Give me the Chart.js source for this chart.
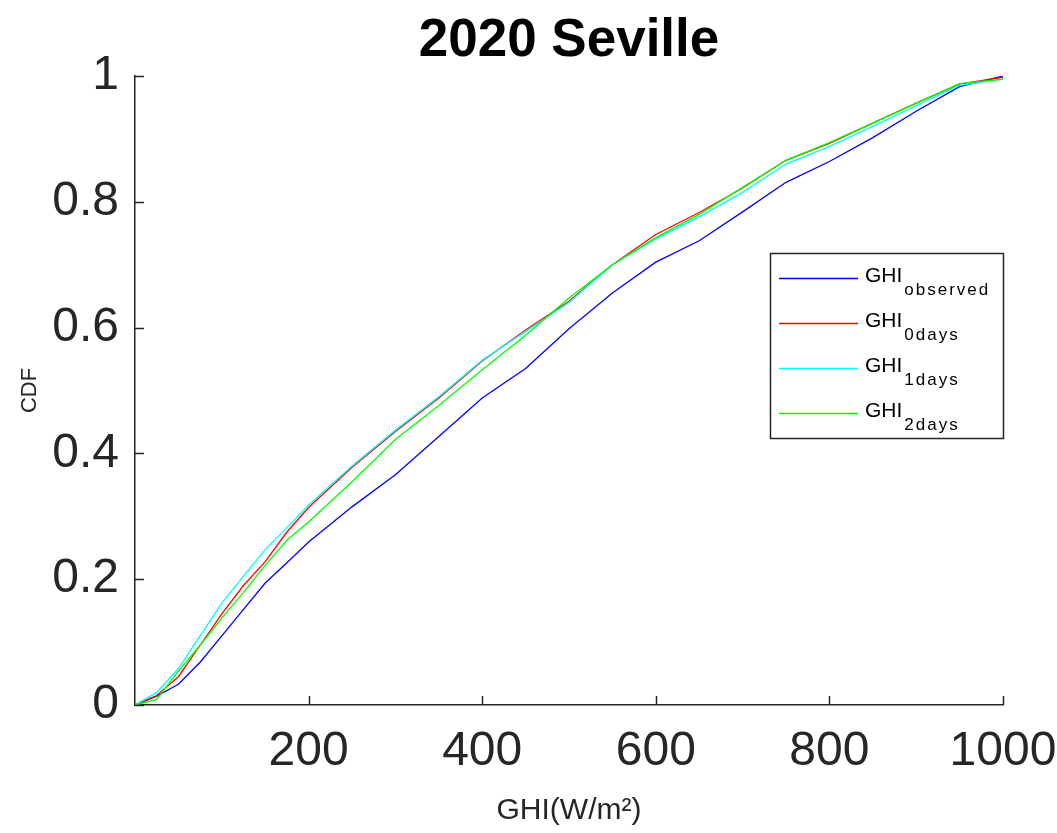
<!DOCTYPE html>
<html>
<head>
<meta charset="utf-8">
<title>2020 Seville</title>
<script src="https://cdn.jsdelivr.net/npm/chart.js@4/dist/chart.umd.min.js"></script>
<style>
  html, body { margin: 0; padding: 0; background: #fff; }
  #wrap { width: 1057px; height: 833px; }
</style>
</head>
<body>
<div id="wrap"><canvas id="cdfChart"></canvas></div>
<script>
/* ─── Data ──────────────────────────────────────────────────────────────── */
const ghiValues = [0, 25, 50, 75, 100, 125, 150, 175, 200, 250, 300, 350, 400,
                   450, 500, 550, 600, 650, 700, 750, 800, 850, 900, 950, 1000];

const cdfObserved = [0, .014, .033, .068, .110, .152, .194, .226, .259, .315, .366, .427, .488,
                     .535, .598, .655, .704, .738, .784, .831, .864, .902, .944, .983, 1.0];
const cdf0days    = [0, .015, .045, .095, .145, .190, .228, .275, .314, .378, .435, .488, .547,
                     .596, .642, .700, .748, .783, .822, .866, .893, .925, .957, .987, .998];
const cdf1days    = [0, .020, .058, .110, .162, .205, .247, .282, .318, .380, .437, .490, .548,
                     .594, .640, .700, .741, .776, .815, .860, .888, .920, .953, .985, .995];
const cdf2days    = [0, .009, .054, .095, .138, .179, .222, .262, .291, .355, .422, .476, .533,
                     .588, .647, .700, .743, .780, .823, .866, .894, .925, .957, .988, .995];

const seriesNames  = ['observed', '0days', '1days', '2days'];
const seriesValues = [cdfObserved, cdf0days, cdf1days, cdf2days];
const seriesColors = ['#0000ff', '#ff0000', '#00ffff', '#00ff00'];

const xTicks = [200, 400, 600, 800, 1000];
const yTicks = [0, 0.2, 0.4, 0.6, 0.8, 1];

const TITLE = '2020 Seville';
const AXIS_COLOR = '#262626';
const FONT = "'Liberation Sans', Arial, Helvetica, sans-serif";

/* ─── Title centred over the plot area ──────────────────────────────────── */
const plotTitle = {
  id: 'plotTitle',
  afterDraw(chart) {
    const { ctx, chartArea } = chart;
    ctx.save();
    ctx.fillStyle = '#000';
    ctx.font = 'bold 53px ' + FONT;
    ctx.textAlign = 'center';
    ctx.textBaseline = 'alphabetic';
    ctx.fillText(TITLE, (chartArea.left + chartArea.right) / 2, 56);
    ctx.restore();
  }
};

/* ─── Inward tick marks (MATLAB style) ──────────────────────────────────── */
const inwardTicks = {
  id: 'inwardTicks',
  afterDatasetsDraw(chart) {
    const { ctx, chartArea, scales } = chart;
    const len = 9;
    ctx.save();
    ctx.strokeStyle = AXIS_COLOR;
    ctx.lineWidth = 1.5;
    ctx.beginPath();
    xTicks.forEach(v => {
      const px = Math.round(scales.x.getPixelForValue(v)) + 0.5;
      ctx.moveTo(px, chartArea.bottom);
      ctx.lineTo(px, chartArea.bottom - len);
    });
    yTicks.forEach(v => {
      const py = Math.round(scales.y.getPixelForValue(v)) + 0.5;
      ctx.moveTo(chartArea.left, py);
      ctx.lineTo(chartArea.left + len, py);
    });
    ctx.stroke();
    ctx.restore();
  }
};

/* ─── Legend box with subscripts ────────────────────────────────────────── */
const subLegend = {
  id: 'subLegend',
  afterDraw(chart) {
    const { ctx, chartArea } = chart;
    const right = chartArea.right, left = right - 233;
    const top = 253, bottom = 438;
    ctx.save();
    ctx.fillStyle = '#fff';
    ctx.fillRect(left, top, right - left, bottom - top);
    ctx.strokeStyle = AXIS_COLOR;
    ctx.lineWidth = 1.5;
    ctx.strokeRect(left + 0.5, top + 0.5, right - left, bottom - top);

    seriesNames.forEach((name, i) => {
      const y = 278 + i * 45;
      ctx.strokeStyle = seriesColors[i];
      ctx.lineWidth = 1.3;
      ctx.beginPath();
      ctx.moveTo(left + 9, y + 0.5);
      ctx.lineTo(left + 88, y + 0.5);
      ctx.stroke();

      ctx.fillStyle = '#000';
      ctx.textBaseline = 'alphabetic';
      ctx.textAlign = 'left';
      ctx.font = '21px ' + FONT;
      ctx.fillText('GHI', left + 95, y + 4);
      const w = ctx.measureText('GHI').width;
      ctx.font = '17px ' + FONT;
      ctx.letterSpacing = '2px';
      ctx.fillText(name, left + 97 + w, y + 17);
      ctx.letterSpacing = '0px';
    });
    ctx.restore();
  }
};

/* ─── Chart ─────────────────────────────────────────────────────────────── */
const ctx = document.getElementById('cdfChart');
new Chart(ctx, {
  type: 'line',
  data: {
    datasets: seriesNames.map((name, i) => ({
      label: 'GHI ' + name,
      data: ghiValues.map((x, k) => ({ x, y: seriesValues[i][k] })),
      borderColor: seriesColors[i],
      borderWidth: 1.3,
      pointRadius: 0,
      tension: 0,
      fill: false,
      order: seriesNames.length - i
    }))
  },
  options: {
    responsive: true,
    maintainAspectRatio: false,
    animation: false,
    layout: { padding: { top: 76, left: 0, right: 54, bottom: 0 } },
    plugins: {
      legend: { display: false },
      tooltip: { enabled: false },
      title: { display: false }
    },
    scales: {
      x: {
        type: 'linear',
        min: 0,
        max: 1000,
        afterFit: s => { s.height = 128; s.paddingRight = 0; s.paddingLeft = 0; },
        afterBuildTicks: s => { s.ticks = xTicks.map(v => ({ value: v })); },
        ticks: {
          color: AXIS_COLOR,
          font: { family: FONT, size: 48 },
          padding: 18,
          maxRotation: 0,
          callback: v => String(v)
        },
        grid: { display: false, drawTicks: false },
        border: { display: true, color: AXIS_COLOR, width: 1.5 },
        title: {
          display: true,
          text: 'GHI(W/m²)',
          color: AXIS_COLOR,
          font: { family: FONT, size: 30 },
          padding: { top: 0, bottom: 4 }
        }
      },
      y: {
        type: 'linear',
        min: 0,
        max: 1,
        afterFit: s => { s.width = 135; s.paddingTop = 0; s.paddingBottom = 0; },
        afterBuildTicks: s => { s.ticks = yTicks.map(v => ({ value: v })); },
        ticks: {
          color: AXIS_COLOR,
          font: { family: FONT, size: 48 },
          padding: 16,
          callback: v => String(Math.round(v * 10) / 10)
        },
        grid: { display: false, drawTicks: false },
        border: { display: true, color: AXIS_COLOR, width: 1.5 },
        title: {
          display: true,
          text: 'CDF',
          color: AXIS_COLOR,
          font: { family: FONT, size: 22 },
          padding: { top: 17, bottom: 0 }
        }
      }
    }
  },
  plugins: [inwardTicks, subLegend, plotTitle]
});
</script>
</body>
</html>
